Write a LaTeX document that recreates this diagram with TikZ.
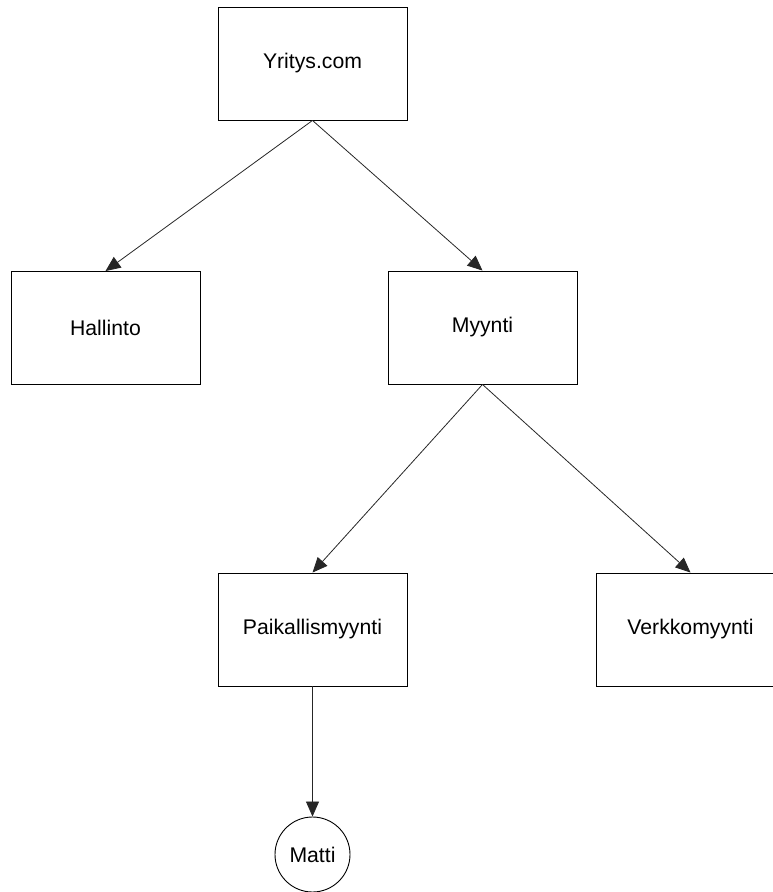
\documentclass[tikz,border=0pt]{standalone}
\usepackage{fontspec}
\setmainfont{Liberation Sans}
\usetikzlibrary{arrows.meta}
\begin{document}
\begin{tikzpicture}[x=1pt,y=-1pt,
  orgbox/.style={draw=black, line width=0.9pt, rectangle, inner sep=0pt,
    minimum width=189pt, minimum height=113pt, font=\fontsize{21.2}{25}\selectfont},
  personnode/.style={draw=black, line width=0.9pt, circle, inner sep=0pt,
    minimum size=75pt, font=\fontsize{21.2}{25}\selectfont},
  link/.style={draw=black!85, line width=0.8pt, -{Triangle[length=15pt,width=13pt]}}]
\useasboundingbox (0,0) rectangle (773,892);
\node[orgbox] (yr) at (312.5,63.5) {Yritys.com};
\node[orgbox] (ha) at (105.5,328) {Hallinto};
\node[orgbox] (my) at (482.5,327.5) {Myynti};
\node[orgbox] (pa) at (312.5,629.5) {Paikallismyynti};
\node[orgbox] (ve) at (690.5,629.5) {Verkkomyynti};
\node[personnode] (ma) at (312.5,854.5) {Matti};
\draw[link] (yr.south) -- (ha.north);
\draw[link] (yr.south) -- (my.north);
\draw[link] (my.south) -- (pa.north);
\draw[link] (my.south) -- (ve.north);
\draw[link] (pa.south) -- (ma.north);
\end{tikzpicture}
\end{document}
